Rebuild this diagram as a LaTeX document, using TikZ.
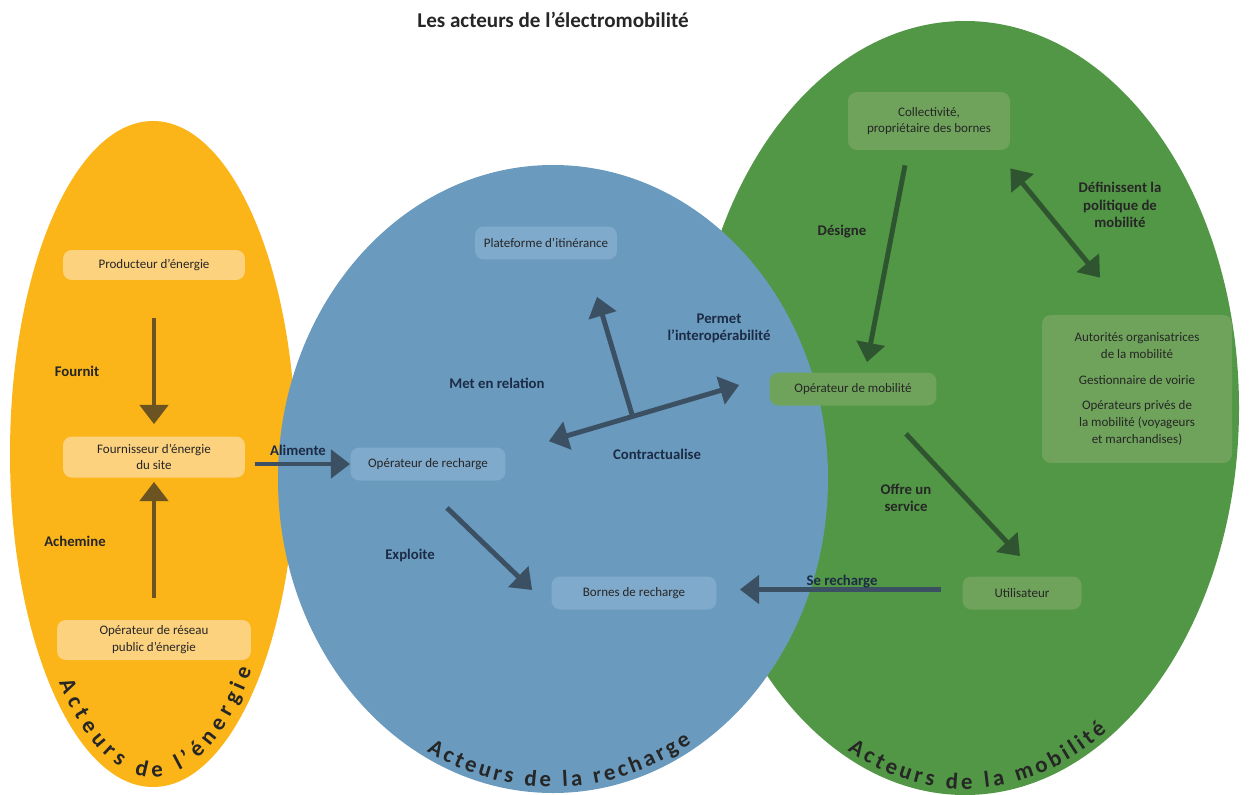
\documentclass[tikz,border=0pt]{standalone}
\usepackage{fontspec}
\setmainfont{Carlito}
\usepackage{xcolor}
\usetikzlibrary{arrows.meta, positioning, calc, decorations.text}

\definecolor{energie}{HTML}{FBB519}
\definecolor{recharge}{HTML}{6A9BBE}
\definecolor{mobilite}{HTML}{529746}
\definecolor{boxenergie}{HTML}{FDD27F}
\definecolor{boxrecharge}{HTML}{80AACB}
\definecolor{boxmobilite}{HTML}{6FA35B}
\definecolor{arrenergie}{HTML}{6B5322}
\definecolor{arrrecharge}{HTML}{3B5163}
\definecolor{arrmobilite}{HTML}{2F5530}
\definecolor{txtdark}{HTML}{262626}
\definecolor{txtnavy}{HTML}{1C2B45}

\newcommand{\boxfont}{\fontsize{7.4}{9.6}\selectfont}
\newcommand{\verbfont}{\fontsize{8.4}{9.8}\selectfont\bfseries}
\newcommand{\curvefont}{\fontsize{13}{15}\selectfont\bfseries\color{txtdark}}

\tikzset{
  actor/.style={rounded corners=5pt, align=center, font=\boxfont, text=txtdark, inner sep=1pt},
  actE/.style={actor, fill=boxenergie},
  actR/.style={actor, fill=boxrecharge},
  actM/.style={actor, fill=boxmobilite},
  verb/.style={align=center, font=\verbfont, text=txtdark},
  arrE/.style={-{Triangle[length=11pt,width=16pt]}, line width=2.8pt, draw=arrenergie},
  arrR/.style={-{Triangle[length=11pt,width=16pt]}, line width=2.8pt, draw=arrrecharge},
  arrM/.style={-{Triangle[length=11pt,width=16pt]}, line width=2.8pt, draw=arrmobilite}
}

\begin{document}
\begin{tikzpicture}[x=0.02cm, y=-0.02cm]
\useasboundingbox (0,0) rectangle (1250,794);

% Title
\node[font=\fontsize{12}{14}\selectfont\bfseries, text=txtdark] (title) at (553,20) {Les acteurs de l’électromobilité};

% The three families of actors
\fill[energie] (153,454) ellipse [x radius=143, y radius=333];
\fill[mobilite] (965,408) ellipse [x radius=274, y radius=387];
\fill[recharge] (553,479) ellipse [x radius=275, y radius=314];

% Curved titles
\path[decorate, decoration={text along path, text align={fit to path},
    text={|\curvefont|Acteurs de l’énergie}}]
  ({153+133*cos(135)}, {454+323*sin(135)}) arc[start angle=135, end angle=42, x radius=133, y radius=323];
\path[decorate, decoration={text along path, text align={fit to path},
    text={|\curvefont|Acteurs de la recharge}}]
  ({553+269*cos(118)}, {479+308*sin(118)}) arc[start angle=118, end angle=59, x radius=269, y radius=308];
\path[decorate, decoration={text along path, text align={fit to path},
    text={|\curvefont|Acteurs de la mobilité}}]
  ({965+268*cos(116)}, {408+381*sin(116)}) arc[start angle=116, end angle=58, x radius=268, y radius=381];

% Energy actors
\node[actE, minimum width=3.64cm, minimum height=0.6cm] (prod) at (154,265) {Producteur d’énergie};
\node[actE, minimum width=3.64cm, minimum height=0.82cm] (fourn) at (154,457) {Fournisseur d’énergie\\du site};
\node[actE, minimum width=3.88cm, minimum height=0.8cm] (opres) at (154,640) {Opérateur de réseau\\public d’énergie};

% Charging actors
\node[actR, minimum width=2.84cm, minimum height=0.66cm] (plat) at (546,243) {Plateforme d’itinérance};
\node[actR, minimum width=3.1cm, minimum height=0.66cm] (oprech) at (428,464) {Opérateur de recharge};
\node[actR, minimum width=3.3cm, minimum height=0.66cm] (bornes) at (634,593) {Bornes de recharge};

% Mobility actors
\node[actM, minimum width=3.24cm, minimum height=1.16cm] (coll) at (929,121) {Collectivité,\\propriétaire des bornes};
\node[actM, minimum width=3.34cm, minimum height=0.66cm] (opmob) at (853,389) {Opérateur de mobilité};
\node[actM, minimum width=3.8cm, minimum height=2.96cm] (autor) at (1137,389)
  {Autorités organisatrices\\de la mobilité\\[5pt]Gestionnaire de voirie\\[5pt]Opérateurs privés de\\la mobilité (voyageurs\\et marchandises)};
\node[actM, minimum width=2.38cm, minimum height=0.66cm] (util) at (1022,593) {Utilisateur};

% Energy arrows
\draw[arrE, shorten <=0.76cm, shorten >=0.24cm] (prod.south) -- (fourn.north);
\draw[arrE, shorten <=0.44cm, shorten >=0.08cm] (opres.north) -- (fourn.south);
\node[verb] (fournit) at (77,371) {Fournit};
\node[verb] (achemine) at (75,541) {Achemine};

% Charging arrows
\draw[arrR, shorten <=0.2cm] (fourn.east |- oprech.west) -- (oprech.west);
\draw[arrR, {Triangle[length=11pt,width=16pt]}-{Triangle[length=11pt,width=16pt]}]
  ($(oprech.north east)+(43,-6)$) -- coordinate[pos=0.44] (cross) ($(opmob.west)+(-30,-4)$);
\draw[arrR] (cross) -- ($(plat.south)+(51,37)$);
\draw[arrR] ($(oprech.south)+(19,27)$) -- ($(bornes.west)+(-19,-3)$);
\draw[arrR, shorten <=0.42cm, shorten >=0.46cm] ([yshift=2pt]util.west) -- ([yshift=2pt]bornes.east);
\node[verb, text=txtnavy] (alimente) at (298,450) {Alimente};
\node[verb, text=txtnavy] (relation) at (497,383) {Met en relation};
\node[verb, text=txtnavy] (interop) at (719,328) {Permet\\l’interopérabilité};
\node[verb, text=txtnavy] (contrat) at (657,454) {Contractualise};
\node[verb, text=txtnavy] (exploite) at (410,555) {Exploite};
\node[verb, text=txtnavy] (serecharge) at (842,582) {Se recharge};

% Mobility arrows
\draw[arrM] ($(coll.south)+(-24,15)$) -- ($(opmob.north)+(14,-10)$);
\draw[arrM, {Triangle[length=11pt,width=16pt]}-{Triangle[length=11pt,width=16pt]}]
  ($(coll.south east)+(0,18)$) -- ($(autor.north)+(-37,-37)$);
\draw[arrM] ($(opmob.south)+(53,28)$) -- ($(util.north)+(-2,-20)$);
\node[verb] (designe) at (842,232) {Désigne};
\node[verb] (politique) at (1120,205) {Définissent la\\politique de\\mobilité};
\node[verb] (offre) at (906,498) {Offre un\\service};
\end{tikzpicture}
\end{document}
